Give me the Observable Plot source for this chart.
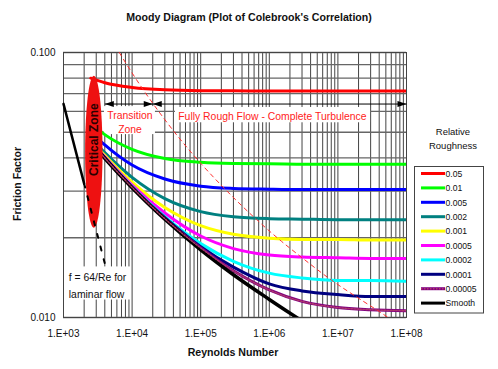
<!DOCTYPE html>
<html><head><meta charset="utf-8">
<script src="https://cdn.jsdelivr.net/npm/d3@7"></script>
<script src="https://cdn.jsdelivr.net/npm/@observablehq/plot@0.6"></script>
<style>body{margin:0;background:#fff}svg{display:block}</style>
</head><body><div id="chart"></div>
<script>
// ---- data ----
const reynolds = [2500, 4000, 1e4, 3e4, 1e5, 3e5, 1e6, 3e6, 1e7, 3e7, 1e8];
const roughness = ["0.05", "0.01", "0.005", "0.002", "0.001", "0.0005", "0.0002", "0.0001", "0.00005", "Smooth"];
const seriesColors = ["#ff0000", "#00ff00", "#0000ff", "#008080", "#ffff00", "#ff00ff", "#00ffff", "#000080", "#800080", "#000000"];
const f_0_05    = [0.0800, 0.0769, 0.0738, 0.0723, 0.0718, 0.0717, 0.0716, 0.0716, 0.0716, 0.0716, 0.0716];
const f_0_01    = [0.0540, 0.0490, 0.0431, 0.0398, 0.0385, 0.0381, 0.0380, 0.0379, 0.0379, 0.0379, 0.0379];
const f_0_005   = [0.0501, 0.0448, 0.0376, 0.0333, 0.0313, 0.0307, 0.0305, 0.0304, 0.0304, 0.0304, 0.0304];
const f_0_002   = [0.0476, 0.0419, 0.0338, 0.0281, 0.0251, 0.0240, 0.0236, 0.0235, 0.0234, 0.0234, 0.0234];
const f_0_001   = [0.0468, 0.0409, 0.0324, 0.0260, 0.0222, 0.0206, 0.0199, 0.0197, 0.0197, 0.0196, 0.0196];
const f_0_0005  = [0.0464, 0.0404, 0.0316, 0.0248, 0.0203, 0.0182, 0.0172, 0.0169, 0.0168, 0.0167, 0.0167];
const f_0_0002  = [0.0462, 0.0401, 0.0312, 0.0240, 0.0190, 0.0163, 0.0147, 0.0141, 0.0138, 0.0138, 0.0137];
const f_0_0001  = [0.0461, 0.0400, 0.0310, 0.0238, 0.0185, 0.0155, 0.0134, 0.0126, 0.0122, 0.0120, 0.0120];
const f_0_00005 = [0.0461, 0.0400, 0.0310, 0.0236, 0.0183, 0.0150, 0.0127, 0.0115, 0.0109, 0.0107, 0.0106];
const f_smooth  = [0.0461, 0.0399, 0.0309, 0.0235, 0.0180, 0.0145, 0.0117, 0.0097, null, null, null];
const seriesValues = [f_0_05, f_0_01, f_0_005, f_0_002, f_0_001, f_0_0005, f_0_0002, f_0_0001, f_0_00005, f_smooth];

const laminarRe = [1000, 2000];
const laminarF = [0.064, 0.032];
const laminarDashRe = [2000, 4000];
const laminarDashF = [0.032, 0.016];

const boundaryRe = [6500, 9850, 14950, 27900, 45400, 102700, 229500, 653600, 1.43e6, 3.10e6, 8.5e6, 1.83e7, 3.89e7, 5.4e7];
const boundaryF  = [0.100, 0.0842, 0.0716, 0.0572, 0.0486, 0.0379, 0.0304, 0.0234, 0.0196, 0.0167, 0.0137, 0.0120, 0.01058, 0.0100];

const xTickValues = [1e3, 1e4, 1e5, 1e6, 1e7, 1e8];
const xTickLabels = ["1.E+03", "1.E+04", "1.E+05", "1.E+06", "1.E+07", "1.E+08"];
const yTickValues = [0.01, 0.1];
const yTickLabels = ["0.010", "0.100"];

// annotation anchors (Re, f)
const criticalZone = [{re: 2765, f: 0.0422}];
const criticalLabel = [{re: 2830, f: 0.0469, text: "Critical Zone"}];
const zoneArrowF = 0.0639;
const zoneArrowRe = [4000, 2e4, 1e8];
const textBoxes = [
  {x1: 3960, x2: 21900, y1: 0.0490, y2: 0.0625},
  {x1: 42900, x2: 2.99e7, y1: 0.0543, y2: 0.0620},
  {x1: 1030, x2: 9500, y1: 0.01164, y2: 0.01552}
];
const redLabels = [
  {re: 9310, f: 0.0551, text: "Transition\nZone"},
  {re: 1.11e6, f: 0.0581, text: "Fully Rough Flow - Complete Turbulence"}
];
const laminarLabel = [{re: 1195, f: 0.01335, text: "f = 64/Re for\nlaminar flow"}];

// ---- tables ----
const curves = seriesValues.flatMap((vals, i) =>
  reynolds.map((re, j) => ({re, f: vals[j], series: roughness[i]})));
const laminar = laminarRe.map((re, i) => ({re, f: laminarF[i]}));
const laminarDash = laminarDashRe.map((re, i) => ({re, f: laminarDashF[i]}));
const boundary = boundaryRe.map((re, i) => ({re, f: boundaryF[i]}));

const xGrid = [];
for (let e = 3; e < 8; e++) for (let m = 1; m < 10; m++) xGrid.push(m * 10 ** e);
xGrid.push(1e8);
const yGrid = [];
for (let m = 1; m <= 10; m++) yGrid.push(m / 100);

// custom symbols
const ellipseSymbol = {draw(ctx) {
  const rx = 8.7, ry = 76, k = 0.5523;
  ctx.moveTo(rx, 0);
  ctx.bezierCurveTo(rx, ry * k, rx * k, ry, 0, ry);
  ctx.bezierCurveTo(-rx * k, ry, -rx, ry * k, -rx, 0);
  ctx.bezierCurveTo(-rx, -ry * k, -rx * k, -ry, 0, -ry);
  ctx.bezierCurveTo(rx * k, -ry, rx, -ry * k, rx, 0);
  ctx.closePath();
}};
const arrowRight = {draw(ctx) { ctx.moveTo(0, 0); ctx.lineTo(-9, -3); ctx.lineTo(-9, 3); ctx.closePath(); }};
const arrowLeft = {draw(ctx) { ctx.moveTo(0, 0); ctx.lineTo(9, -3); ctx.lineTo(9, 3); ctx.closePath(); }};

const colorOf = Object.fromEntries(roughness.map((r, i) => [r, seriesColors[i]]));
const font = "'Liberation Sans', Arial, sans-serif";

const plot = Plot.plot({
  width: 498, height: 369,
  marginLeft: 63, marginRight: 92, marginTop: 52, marginBottom: 52,
  style: {fontFamily: font, fontSize: "10px", background: "#fff", color: "#111"},
  x: {type: "log", domain: [1e3, 1e8]},
  y: {type: "log", domain: [0.01, 0.1]},
  marks: [
    Plot.ruleX(xGrid, {stroke: "#444", strokeWidth: 1}),
    Plot.ruleY(yGrid, {stroke: "#666", strokeWidth: 1.3}),
    Plot.rect(textBoxes, {x1: "x1", x2: "x2", y1: "y1", y2: "y2", fill: "white"}),
    Plot.frame({stroke: "#444"}),
    ...roughness.map(r => Plot.line(curves.filter(d => d.series === r && d.f != null), {
      x: "re", y: "f", stroke: colorOf[r], strokeWidth: r === "Smooth" ? 3.5 : 3,
      curve: "monotone-x", clip: true
    })),
    Plot.line(curves.filter(d => d.series === "0.00005"), {x: "re", y: "f", stroke: "#b03a6a", strokeWidth: 1.4, strokeDasharray: "1.5,1.5", curve: "monotone-x", clip: true}),
    Plot.line(laminar, {x: "re", y: "f", stroke: "#000", strokeWidth: 2.5}),
    Plot.line(boundary, {x: "re", y: "f", stroke: "#ff3030", strokeWidth: 1, strokeDasharray: "4,4", curve: "monotone-x", clip: true}),
    Plot.dot(criticalZone, {x: "re", y: "f", symbol: ellipseSymbol, fill: "#ee1111", stroke: "none"}),
    Plot.text(criticalLabel, {x: "re", y: "f", text: "text", rotate: -90, fontWeight: "bold", fontSize: 12, fill: "#2a0000"}),
    Plot.line(laminarDash, {x: "re", y: "f", stroke: "#000", strokeWidth: 2, strokeDasharray: "4,9"}),
    Plot.link([{a: zoneArrowRe[0], b: zoneArrowRe[2]}], {x1: "a", x2: "b", y1: () => zoneArrowF, y2: () => zoneArrowF, stroke: "#000", strokeWidth: 1}),
    Plot.dot([zoneArrowRe[0], zoneArrowRe[1]], {x: d => d, y: () => zoneArrowF, symbol: arrowLeft, fill: "#000", stroke: "none"}),
    Plot.dot([zoneArrowRe[1], zoneArrowRe[2]], {x: d => d, y: () => zoneArrowF, symbol: arrowRight, fill: "#000", stroke: "none"}),
    Plot.text(redLabels, {x: "re", y: "f", text: "text", fill: "#ff2222", fontSize: 10.4, lineHeight: 1.38}),
    Plot.text(laminarLabel, {x: "re", y: "f", text: "text", fill: "#111", fontSize: 10.4, lineHeight: 1.6, textAnchor: "start"}),
    Plot.axisX(xTickValues, {tickSize: 0, tickPadding: 12, tickFormat: d => xTickLabels[xTickValues.indexOf(d)], label: null, fontSize: 10}),
    Plot.axisY(yTickValues, {tickSize: 0, tickPadding: 8, tickFormat: d => yTickLabels[yTickValues.indexOf(d)], label: null, fontSize: 10})
  ]
});

const svg = d3.select(plot);
svg.append("text").attr("x", 249).attr("y", 20.5).attr("text-anchor", "middle")
  .style("font", `bold 10.6px ${font}`).attr("fill", "#111").text("Moody Diagram (Plot of Colebrook's Correlation)");
svg.append("text").attr("transform", "translate(21.3,184) rotate(-90)").attr("text-anchor", "middle")
  .style("font", `bold 10.6px ${font}`).attr("fill", "#111").text("Friction Factor");
svg.append("text").attr("x", 233).attr("y", 355.5).attr("text-anchor", "middle")
  .style("font", `bold 10.6px ${font}`).attr("fill", "#111").text("Reynolds Number");

const lg = svg.append("g");
lg.append("text").attr("x", 453).attr("y", 135).attr("text-anchor", "middle").style("font", `9.5px ${font}`).attr("fill", "#111").text("Relative");
lg.append("text").attr("x", 453).attr("y", 148.5).attr("text-anchor", "middle").style("font", `9.5px ${font}`).attr("fill", "#111").text("Roughness");
lg.append("rect").attr("x", 414.5).attr("y", 166.5).attr("width", 69).attr("height", 146.5)
  .attr("fill", "#fff").attr("stroke", "#444");
roughness.forEach((name, i) => {
  const y = 173.5 + i * 14.4;
  lg.append("line").attr("x1", 421).attr("x2", 445).attr("y1", y).attr("y2", y)
    .attr("stroke", seriesColors[i]).attr("stroke-width", 3);
  if (name === "0.00005") lg.append("line").attr("x1", 421).attr("x2", 445).attr("y1", y).attr("y2", y)
    .attr("stroke", "#b03a6a").attr("stroke-width", 1.4).attr("stroke-dasharray", "1.5,1.5");
  lg.append("text").attr("x", 445.5).attr("y", y + 3.2).attr("text-anchor", "start")
    .style("font", `8.6px ${font}`).attr("fill", "#111").text(name);
});

document.getElementById("chart").appendChild(plot);
</script>
</body></html>
